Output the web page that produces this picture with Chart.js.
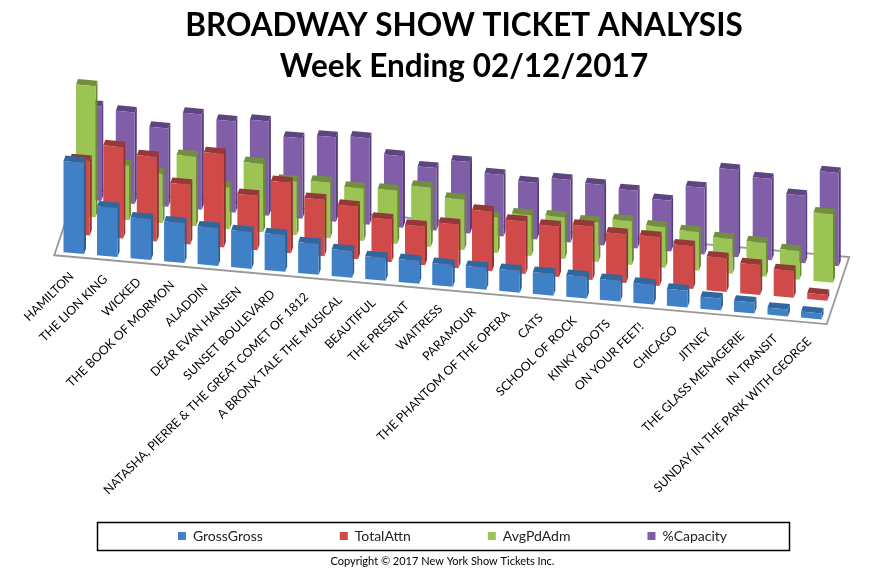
<!DOCTYPE html>
<html>
<head>
<meta charset="utf-8">
<title>Broadway Show Ticket Analysis</title>
<script src="https://cdn.jsdelivr.net/npm/chart.js@4"></script>
<style>
  html, body { margin: 0; padding: 0; background: #fff; }
  canvas { display: block; }
</style>
</head>
<body>
<canvas id="chart" width="885" height="573"></canvas>
<script>
const shows = ["HAMILTON", "THE LION KING", "WICKED", "THE BOOK OF MORMON", "ALADDIN", "DEAR EVAN HANSEN",
    "SUNSET BOULEVARD", "NATASHA, PIERRE & THE GREAT COMET OF 1812", "A BRONX TALE THE MUSICAL", "BEAUTIFUL",
    "THE PRESENT", "WAITRESS", "PARAMOUR", "THE PHANTOM OF THE OPERA", "CATS", "SCHOOL OF ROCK", "KINKY BOOTS",
    "ON YOUR FEET!", "CHICAGO", "JITNEY", "THE GLASS MENAGERIE", "IN TRANSIT", "SUNDAY IN THE PARK WITH GEORGE"]

// values, no axis in the original so these are relative
const grossGross = [92, 49, 41, 40, 38, 37, 37, 31, 27, 23, 23, 22, 22, 22, 22, 22, 21, 20, 17, 12, 11, 7, 6]
const totalAttn = [75, 92, 85, 60, 94, 55, 71, 57, 53, 43, 39, 44, 60, 53, 51, 54, 49, 49, 43, 34, 30, 27, 6]
const avgPdAdm = [132, 55, 50, 70, 42, 69, 54, 56, 53, 54, 60, 51, 36, 41, 42, 40, 44, 41, 39, 35, 34, 29, 69]
const capacity = [95, 92, 79, 96, 92, 95, 81, 85, 87, 72, 63, 72, 62, 57, 63, 61, 58, 51, 67, 88, 82, 68, 94]

// fake 3d: every row is pushed back and every column runs downhill
const rowDx = [0, 6, 12, 18]
const rowDy = [0, -18.5, -36.6, -53]
const columnDrop = 2.97
const capDx = 2
const capDy = -5.5
const sideColors = ["#2c5f94", "#8f3432", "#6d8a38", "#55407a"]
const capColors = ["#30679e", "#96383a", "#718f3e", "#5d4680"]

const bars3d = {
    id: "bars3d",
    afterLayout(chart) {
        // title sits right of centre in the original, the legend a little less
        chart.titleBlock.left += 21.5
        chart.titleBlock.right += 21.5
        chart.legend.left += 10
        chart.legend.right += 10
        chart.legend.top = 452
    },
    beforeDatasetsDraw(chart) {
        const ctx = chart.ctx
        const x = chart.scales.x
        const y = chart.scales.y
        const x0 = x.getPixelForValue(0)
        const x22 = x.getPixelForValue(22)
        const y0 = y.getPixelForValue(0)
        const frontLeft = [x0 - 19.5, y0 + 3]
        const frontRight = [x22 + 15.5, y0 + 22 * columnDrop + 6.5]
        const back = [22.5, -67]
        ctx.save()
        ctx.beginPath()
        ctx.moveTo(frontLeft[0], frontLeft[1])
        ctx.lineTo(frontRight[0], frontRight[1])
        ctx.lineTo(frontRight[0] + back[0], frontRight[1] + back[1])
        ctx.lineTo(frontLeft[0] + back[0], frontLeft[1] + back[1])
        ctx.closePath()
        ctx.fillStyle = "#fff"
        ctx.fill()
        ctx.strokeStyle = "#999"
        ctx.lineWidth = 1.8
        ctx.stroke()
        ctx.restore()
    },
    beforeDatasetDraw(chart, args) {
        const ctx = chart.ctx
        const s = args.index
        args.meta.data.forEach((el, i) => {
            const off = rowDy[s] + i * columnDrop
            const left = el.x - el.width / 2 + rowDx[s]
            const right = left + el.width
            const top = el.y + off
            const base = el.base + off
            const slope = el.width * columnDrop / 33.5
            quad(ctx, sideColors[s], right, top + slope, right + capDx, top + slope + capDy, right + capDx, base + slope + capDy, right, base + slope)
            quad(ctx, capColors[s], left, top, left + capDx, top + capDy, right + capDx, top + slope + capDy, right, top + slope)
            quad(ctx, chart.data.datasets[s].backgroundColor, left, top, right, top + slope, right, base + slope, left, base)
        })
        return false
    },
    afterDatasetsDraw(chart) {
        const ctx = chart.ctx
        const x = chart.scales.x
        const y = chart.scales.y
        ctx.save()
        ctx.font = "12.3px Lato"
        ctx.fillStyle = "#000"
        ctx.textAlign = "right"
        ctx.textBaseline = "middle"
        chart.data.labels.forEach((label, i) => {
            ctx.save()
            ctx.translate(x.getPixelForValue(i) - 2, y.getPixelForValue(0) + 22 + i * columnDrop)
            ctx.rotate(-44.5 * Math.PI / 180)
            ctx.fillText(label, 0, 0)
            ctx.restore()
        })
        // box round the legend
        ctx.strokeStyle = "#000"
        ctx.lineWidth = 1.5
        ctx.strokeRect(97.5, 522.5, 692, 28)
        ctx.restore()
    }
}

function quad(ctx, color, x1, y1, x2, y2, x3, y3, x4, y4) {
    ctx.beginPath()
    ctx.moveTo(x1, y1)
    ctx.lineTo(x2, y2)
    ctx.lineTo(x3, y3)
    ctx.lineTo(x4, y4)
    ctx.closePath()
    ctx.fillStyle = color
    ctx.fill()
}

new Chart(document.getElementById("chart"), {
    type: "bar",
    plugins: [bars3d],
    data: {
        labels: shows,
        datasets: [
            { label: "GrossGross", data: grossGross, backgroundColor: "#3f80c6", barThickness: 20.5 },
            { label: "TotalAttn", data: totalAttn, backgroundColor: "#cf4a48", barThickness: 20 },
            { label: "AvgPdAdm", data: avgPdAdm, backgroundColor: "#9cc455", barThickness: 19.5 },
            { label: "%Capacity", data: capacity, backgroundColor: "#805fa8", barThickness: 19 }
        ]
    },
    options: {
        responsive: false,
        animation: false,
        devicePixelRatio: 1,
        grouped: false,
        layout: { padding: { left: 57, right: 57 } },
        scales: {
            x: { display: false },
            y: { display: false, min: -200, max: 163.5 }
        },
        plugins: {
            tooltip: { enabled: false },
            title: {
                display: true,
                text: ["BROADWAY SHOW TICKET ANALYSIS", "Week Ending 02/12/2017"],
                color: "#000",
                font: { family: "Lato", size: 31.5, weight: "bold", lineHeight: 1.3 },
                padding: { top: 5, bottom: 3 }
            },
            subtitle: {
                display: true,
                position: "bottom",
                text: "Copyright © 2017 New York Show Tickets Inc.",
                color: "#000",
                font: { family: "Lato", size: 11 },
                padding: { top: 3, bottom: 5 }
            },
            legend: {
                position: "bottom",
                labels: {
                    boxWidth: 8,
                    boxHeight: 8,
                    padding: 77,
                    color: "#222",
                    font: { family: "Lato", size: 14 }
                }
            }
        }
    }
})
</script>
</body>
</html>
